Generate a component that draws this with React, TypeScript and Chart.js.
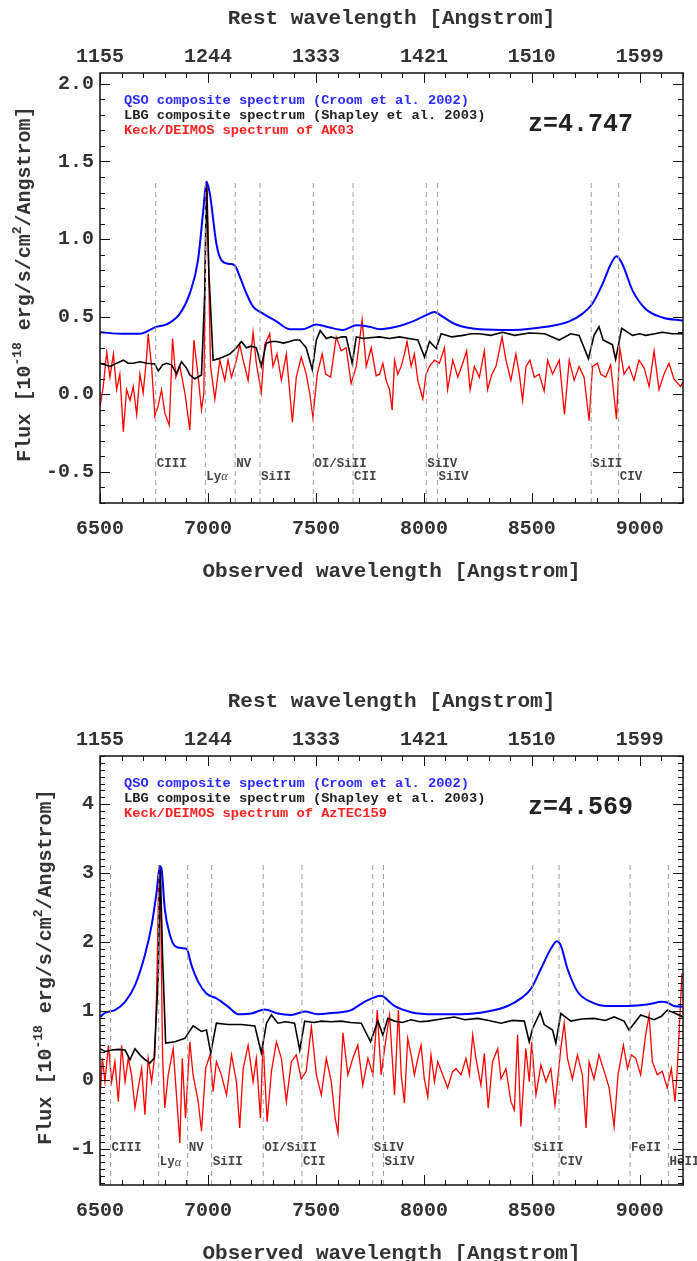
import React, { useEffect, useRef } from "react";
import { Chart, registerables } from "chart.js";

Chart.register(...registerables);

// ---------- shared axis data ----------
const obsTickValues = [6500, 7000, 7500, 8000, 8500, 9000];
const restTickLabels = ["1155", "1244", "1333", "1421", "1510", "1599"];
const obsMin = 6500;
const obsMax = 9200;

// ---------- AK03 (z = 4.747) ----------
const ak03QsoX = [6500, 6608, 6685, 6762, 6808, 6870, 6916, 6954, 6978, 6993, 7009, 7039, 7062, 7101, 7124, 7147, 7178, 7209, 7255, 7317, 7378, 7440, 7502, 7564, 7625, 7687, 7748, 7795, 7872, 7949, 8010, 8049, 8087, 8149, 8257, 8411, 8565, 8673, 8735, 8781, 8827, 8866, 8892, 8919, 8966, 9027, 9104, 9200];
const ak03QsoY = [0.40, 0.39, 0.39, 0.435, 0.45, 0.52, 0.65, 0.865, 1.18, 1.37, 1.29, 0.97, 0.865, 0.84, 0.83, 0.76, 0.65, 0.565, 0.52, 0.47, 0.42, 0.42, 0.45, 0.43, 0.415, 0.445, 0.435, 0.42, 0.435, 0.47, 0.51, 0.53, 0.50, 0.45, 0.42, 0.415, 0.435, 0.47, 0.52, 0.585, 0.71, 0.84, 0.89, 0.84, 0.67, 0.55, 0.495, 0.475];

const ak03LbgX = [6500, 6523, 6546, 6577, 6608, 6630, 6654, 6685, 6716, 6754, 6770, 6790, 6808, 6831, 6854, 6877, 6900, 6916, 6939, 6970, 6985, 6993, 7005, 7024, 7050, 7070, 7101, 7132, 7155, 7178, 7200, 7224, 7247, 7270, 7295, 7317, 7350, 7378, 7400, 7425, 7455, 7483, 7502, 7520, 7548, 7570, 7594, 7620, 7640, 7668, 7687, 7720, 7748, 7795, 7840, 7887, 7930, 7972, 8003, 8026, 8057, 8080, 8130, 8180, 8220, 8257, 8310, 8365, 8420, 8488, 8560, 8627, 8680, 8719, 8762, 8788, 8811, 8830, 8873, 8888, 8916, 8966, 9000, 9027, 9070, 9104, 9150, 9200];
const ak03LbgY = [0.20, 0.19, 0.18, 0.20, 0.22, 0.20, 0.20, 0.21, 0.20, 0.195, 0.15, 0.19, 0.20, 0.19, 0.135, 0.21, 0.17, 0.125, 0.10, 0.125, 0.65, 1.37, 0.76, 0.22, 0.23, 0.24, 0.26, 0.30, 0.34, 0.30, 0.31, 0.30, 0.18, 0.33, 0.34, 0.34, 0.33, 0.34, 0.35, 0.35, 0.30, 0.16, 0.35, 0.41, 0.36, 0.37, 0.36, 0.37, 0.37, 0.20, 0.37, 0.36, 0.365, 0.37, 0.36, 0.37, 0.36, 0.35, 0.24, 0.34, 0.295, 0.39, 0.37, 0.38, 0.39, 0.39, 0.38, 0.40, 0.38, 0.395, 0.39, 0.35, 0.39, 0.38, 0.23, 0.38, 0.435, 0.35, 0.32, 0.225, 0.425, 0.38, 0.39, 0.38, 0.39, 0.40, 0.39, 0.39];

const ak03KeckX = [6500, 6515, 6531, 6546, 6562, 6577, 6592, 6608, 6623, 6639, 6654, 6670, 6685, 6700, 6716, 6723, 6739, 6754, 6770, 6785, 6800, 6821, 6836, 6851, 6870, 6893, 6916, 6935, 6955, 6970, 6981, 6990, 6996, 7002, 7012, 7032, 7055, 7078, 7093, 7109, 7132, 7147, 7163, 7186, 7209, 7224, 7247, 7263, 7286, 7301, 7320, 7340, 7363, 7391, 7409, 7432, 7455, 7471, 7486, 7506, 7529, 7545, 7568, 7594, 7617, 7640, 7663, 7687, 7714, 7733, 7756, 7779, 7795, 7810, 7825, 7841, 7853, 7864, 7879, 7895, 7910, 7922, 7941, 7956, 7972, 7995, 8010, 8026, 8049, 8072, 8095, 8110, 8134, 8157, 8180, 8198, 8214, 8234, 8257, 8280, 8295, 8315, 8334, 8362, 8380, 8403, 8426, 8442, 8457, 8473, 8491, 8511, 8534, 8557, 8573, 8596, 8627, 8651, 8673, 8696, 8719, 8742, 8765, 8781, 8804, 8819, 8842, 8865, 8892, 8907, 8927, 8950, 8973, 8996, 9020, 9043, 9066, 9089, 9112, 9135, 9158, 9189, 9200];
const ak03KeckY = [-0.08, 0.05, 0.27, 0.11, 0.26, 0.03, 0.13, -0.24, 0.03, -0.04, 0.05, -0.13, 0.13, 0.01, 0.24, 0.39, 0.18, -0.14, -0.07, 0.03, -0.12, -0.20, 0.36, 0.11, 0.18, 0.01, -0.23, 0.35, 0.11, -0.10, 0.01, 1.08, 1.37, 0.86, 0.18, -0.03, 0.22, 0.09, 0.22, 0.11, 0.22, 0.32, 0.22, 0.09, 0.40, 0.20, 0.01, 0.32, 0.39, 0.18, 0.26, 0.09, 0.26, -0.18, 0.11, 0.24, 0.13, 0.01, -0.15, 0.13, 0.26, 0.13, 0.11, 0.37, 0.28, 0.30, 0.07, 0.18, 0.48, 0.18, 0.30, 0.12, 0.13, 0.20, 0.09, 0.03, -0.10, 0.22, 0.13, 0.18, 0.26, 0.34, 0.18, 0.26, 0.09, -0.03, 0.13, 0.18, 0.22, 0.20, 0.30, 0.03, 0.22, 0.11, 0.20, 0.28, 0.03, 0.18, 0.11, 0.28, 0.03, 0.13, 0.18, 0.37, 0.22, 0.09, 0.26, 0.13, -0.04, 0.18, 0.22, 0.11, 0.13, 0.02, 0.22, 0.13, 0.22, -0.13, 0.22, 0.09, 0.18, 0.11, -0.17, 0.18, 0.20, 0.13, 0.11, 0.19, -0.16, 0.30, 0.13, 0.18, 0.09, 0.22, 0.17, 0.05, 0.28, 0.03, 0.13, 0.20, 0.10, 0.05, 0.08];

const ak03LineObs = [6758, 6988, 7126, 7241, 7488, 7672, 8011, 8063, 8775, 8902];
const ak03LineNames = ["CIII", "Lyα", "NV", "SiII", "OI/SiII", "CII", "SiIV", "SiIV", "SiII", "CIV"];
const ak03YTicks = [-0.5, 0, 0.5, 1, 1.5, 2];

// ---------- AzTEC159 (z = 4.569) ----------
const aztecQsoX = [6500, 6523, 6569, 6616, 6662, 6708, 6739, 6762, 6777, 6785, 6800, 6824, 6847, 6878, 6901, 6924, 6955, 6993, 7039, 7093, 7140, 7201, 7263, 7324, 7386, 7448, 7509, 7586, 7663, 7725, 7802, 7848, 7864, 7941, 8049, 8172, 8295, 8388, 8449, 8496, 8542, 8588, 8616, 8634, 8665, 8711, 8773, 8850, 8943, 9035, 9104, 9127, 9158, 9200];
const aztecQsoY = [0.91, 0.97, 1.01, 1.13, 1.37, 1.81, 2.24, 2.72, 3.10, 3.06, 2.48, 2.10, 1.94, 1.91, 1.90, 1.66, 1.42, 1.25, 1.18, 1.06, 0.95, 0.96, 1.02, 0.96, 0.94, 0.99, 0.95, 0.97, 1.01, 1.13, 1.22, 1.11, 1.07, 0.98, 0.95, 0.95, 0.99, 1.07, 1.18, 1.32, 1.61, 1.90, 2.01, 1.95, 1.61, 1.28, 1.13, 1.07, 1.07, 1.09, 1.13, 1.12, 1.07, 1.06];

const aztecLbgX = [6500, 6523, 6554, 6585, 6616, 6639, 6662, 6685, 6708, 6731, 6751, 6770, 6779, 6790, 6804, 6847, 6893, 6931, 6970, 6993, 7013, 7039, 7093, 7155, 7217, 7247, 7271, 7294, 7324, 7360, 7401, 7425, 7448, 7490, 7525, 7570, 7617, 7660, 7710, 7753, 7787, 7810, 7833, 7864, 7900, 7941, 7980, 8018, 8080, 8141, 8190, 8249, 8300, 8357, 8410, 8465, 8488, 8503, 8539, 8557, 8596, 8611, 8634, 8681, 8730, 8788, 8840, 8881, 8927, 8950, 9004, 9066, 9100, 9127, 9158, 9200];
const aztecLbgY = [0.45, 0.41, 0.43, 0.44, 0.43, 0.29, 0.45, 0.36, 0.29, 0.24, 0.31, 1.52, 3.11, 1.76, 0.53, 0.55, 0.60, 0.78, 0.70, 0.72, 0.39, 0.82, 0.80, 0.80, 0.78, 0.39, 0.82, 0.94, 0.82, 0.84, 0.82, 0.43, 0.85, 0.83, 0.85, 0.84, 0.85, 0.83, 0.82, 0.55, 0.85, 0.65, 0.89, 0.85, 0.83, 0.87, 0.84, 0.85, 0.88, 0.91, 0.87, 0.89, 0.86, 0.82, 0.86, 0.85, 0.55, 0.74, 0.98, 0.80, 0.72, 0.53, 0.96, 0.85, 0.88, 0.89, 0.86, 0.91, 0.85, 0.72, 0.94, 0.87, 0.92, 1.01, 0.97, 0.91];

const aztecKeckX = [6500, 6511, 6523, 6539, 6554, 6569, 6585, 6600, 6616, 6631, 6646, 6662, 6677, 6693, 6708, 6723, 6739, 6754, 6764, 6773, 6782, 6790, 6800, 6816, 6839, 6854, 6870, 6881, 6896, 6916, 6931, 6955, 6970, 6989, 7009, 7024, 7039, 7062, 7086, 7109, 7132, 7147, 7163, 7186, 7209, 7224, 7243, 7255, 7274, 7294, 7317, 7340, 7363, 7386, 7409, 7432, 7455, 7479, 7502, 7525, 7548, 7571, 7589, 7602, 7625, 7648, 7671, 7694, 7717, 7741, 7764, 7784, 7802, 7818, 7841, 7864, 7882, 7895, 7910, 7925, 7941, 7956, 7972, 7987, 8002, 8018, 8033, 8049, 8064, 8087, 8110, 8133, 8149, 8172, 8195, 8211, 8226, 8241, 8264, 8280, 8298, 8318, 8342, 8357, 8380, 8403, 8419, 8434, 8449, 8472, 8488, 8499, 8519, 8542, 8565, 8588, 8607, 8622, 8634, 8650, 8665, 8688, 8711, 8734, 8751, 8765, 8788, 8811, 8835, 8858, 8881, 8899, 8924, 8943, 8961, 8981, 9004, 9027, 9043, 9058, 9081, 9104, 9127, 9146, 9163, 9174, 9195];
const aztecKeckY = [-0.27, 0.31, -0.03, 0.50, -0.03, 0.26, -0.32, 0.50, -0.03, 0.31, 0.07, -0.41, -0.12, 0.16, -0.51, 0.31, -0.03, 0.36, 1.52, 3.11, 2.24, 0.31, -0.41, 0.07, 0.45, -0.22, -0.92, 0.31, -0.56, 0.55, 0.07, -0.32, -0.75, 0.16, 0.36, -0.17, 0.26, 0.07, -0.22, 0.36, -0.03, -0.70, 0.16, 0.50, -0.03, 0.31, -0.56, 0.55, -0.61, 0.12, 0.55, 0.31, -0.32, 0.26, 0.36, 0.01, 0.12, 0.77, 0.07, -0.22, 0.31, -0.03, -0.56, -0.78, 0.68, 0.07, 0.31, 0.50, -0.08, 0.31, 0.07, 1.01, 0.07, 0.45, 0.94, -0.22, 1.01, 0.07, -0.34, 0.60, 0.36, 0.07, 0.31, 0.50, 0.01, -0.25, 0.36, -0.03, 0.26, 0.07, -0.12, 0.12, 0.16, 0.07, 0.31, 0.07, 0.65, 0.31, -0.08, 0.38, -0.41, 0.26, 0.45, 0.01, 0.16, -0.32, -0.44, 0.65, -0.68, 0.45, -0.03, 0.55, -0.22, 0.21, -0.03, 0.16, -0.37, 0.07, 0.45, 0.82, 0.31, 0.01, 0.36, 0.07, -0.70, 0.26, 0.01, 0.36, 0.12, -0.12, -0.68, 0.07, 0.50, 0.16, 0.36, 0.31, 0.07, 0.65, 0.94, 0.26, 0.07, 0.12, -0.12, 0.16, -0.32, 0.16, 1.54];

const aztecLineObs = [6549, 6772, 6906, 7017, 7256, 7435, 7763, 7813, 8504, 8626, 8955, 9133];
const aztecLineNames = ["CIII", "Lyα", "NV", "SiII", "OI/SiII", "CII", "SiIV", "SiIV", "SiII", "CIV", "FeII", "HeII"];
const aztecYTicks = [-1, 0, 1, 2, 3, 4];

// ---------- layout / style ----------
const W = 697;
const FRAME_LEFT = 100;
const FRAME_RIGHT = 683;
const MONO = '"Liberation Mono", "Courier New", monospace';
const TEXT = "#333";

type Panel = {
  top: number;
  height: number;
  frameTop: number;
  frameBottom: number;
  yMin: number;
  yMax: number;
  yTicks: number[];
  yMajorEvery: number;
  yFmt: (v: number) => string;
  lineTopVal: number;
  labelRows: [number, number];
  qsoX: number[]; qsoY: number[];
  lbgX: number[]; lbgY: number[];
  keckX: number[]; keckY: number[];
  lineObs: number[]; lineNames: string[];
  zText: string;
  target: string;
  yTitleX: number;
  yTitleY: number;
};

const panels: Panel[] = [
  {
    top: 0, height: 600, frameTop: 73, frameBottom: 503,
    yMin: -0.7, yMax: 2.07, yTicks: ak03YTicks, yMajorEvery: 5,
    yFmt: (v) => v.toFixed(1),
    lineTopVal: 1.38, labelRows: [-0.449, -0.532],
    qsoX: ak03QsoX, qsoY: ak03QsoY, lbgX: ak03LbgX, lbgY: ak03LbgY, keckX: ak03KeckX, keckY: ak03KeckY,
    lineObs: ak03LineObs, lineNames: ak03LineNames,
    zText: "z=4.747", target: "AK03", yTitleX: 30, yTitleY: 284,
  },
  {
    top: 680, height: 581, frameTop: 76, frameBottom: 505,
    yMin: -1.53, yMax: 4.7, yTicks: aztecYTicks, yMajorEvery: 10,
    yFmt: (v) => String(v),
    lineTopVal: 3.12, labelRows: [-0.996, -1.2],
    qsoX: aztecQsoX, qsoY: aztecQsoY, lbgX: aztecLbgX, lbgY: aztecLbgY, keckX: aztecKeckX, keckY: aztecKeckY,
    lineObs: aztecLineObs, lineNames: aztecLineNames,
    zText: "z=4.569", target: "AzTEC159", yTitleX: 51, yTitleY: 287,
  },
];

function zip(xs: number[], ys: number[]) {
  return xs.map((x, i) => ({ x, y: ys[i] }));
}

function drawYTitle(ctx: CanvasRenderingContext2D, bx: number, cy: number) {
  const big = `bold 20px ${MONO}`;
  const small = `bold 13px ${MONO}`;
  const parts: [string, string, number][] = [
    ["Flux [10", big, 0],
    ["-18", small, -9],
    [" erg/s/cm", big, 0],
    ["2", small, -9],
    ["/Angstrom]", big, 0],
  ];
  ctx.save();
  ctx.translate(bx, cy);
  ctx.rotate(-Math.PI / 2);
  ctx.fillStyle = TEXT;
  ctx.textBaseline = "alphabetic";
  ctx.textAlign = "left";
  let total = 0;
  for (const p of parts) {
    ctx.font = p[1];
    total += ctx.measureText(p[0]).width;
  }
  let x = -total / 2;
  for (const p of parts) {
    ctx.font = p[1];
    ctx.fillText(p[0], x, p[2]);
    x += ctx.measureText(p[0]).width;
  }
  ctx.restore();
}

function makeOverlay(p: Panel) {
  return {
    id: "overlay",
    afterDatasetsDraw(chart: any) {
      const { ctx, chartArea: a, scales } = chart;
      const xs = scales.x;
      const ys = scales.y;
      ctx.save();

      // line identification labels
      ctx.fillStyle = "#444";
      ctx.textBaseline = "middle";
      ctx.textAlign = "left";
      p.lineObs.forEach((w: number, i: number) => {
        const px = xs.getPixelForValue(w) + 1;
        const py = ys.getPixelForValue(p.labelRows[i % 2]);
        const name = p.lineNames[i];
        if (name === "Lyα") {
          ctx.font = `bold 12.5px ${MONO}`;
          ctx.fillText("Ly", px, py);
          const wLy = ctx.measureText("Ly").width;
          ctx.font = `italic 12.5px "Liberation Serif", serif`;
          ctx.fillText("α", px + wLy, py);
        } else {
          ctx.font = `bold 12.5px ${MONO}`;
          ctx.fillText(name, px, py);
        }
      });

      // frame
      ctx.strokeStyle = "#111";
      ctx.lineWidth = 1.5;
      ctx.strokeRect(a.left, a.top, a.right - a.left, a.bottom - a.top);

      // x ticks (bottom & top, inward)
      ctx.lineWidth = 1;
      ctx.beginPath();
      for (let v = obsMin; v <= obsMax; v += 100) {
        const px = Math.round(xs.getPixelForValue(v)) + 0.5;
        const len = v % 500 === 0 ? 10 : 5;
        ctx.moveTo(px, a.bottom);
        ctx.lineTo(px, a.bottom - len);
        ctx.moveTo(px, a.top);
        ctx.lineTo(px, a.top + len);
      }
      // y ticks (left & right, inward)
      const k0 = Math.ceil(p.yMin * 10 - 1e-6);
      const k1 = Math.floor(p.yMax * 10 + 1e-6);
      for (let k = k0; k <= k1; k++) {
        const py = Math.round(ys.getPixelForValue(k / 10)) + 0.5;
        const len = k % p.yMajorEvery === 0 ? 10 : 5;
        ctx.moveTo(a.left, py);
        ctx.lineTo(a.left + len, py);
        ctx.moveTo(a.right, py);
        ctx.lineTo(a.right - len, py);
      }
      ctx.stroke();

      // legend texts
      ctx.textBaseline = "alphabetic";
      ctx.textAlign = "left";
      ctx.font = `bold 13.7px ${MONO}`;
      ctx.fillStyle = "#2a2aff";
      ctx.fillText("QSO composite spectrum (Croom et al. 2002)", 124, a.top + 30.5);
      ctx.fillStyle = "#222";
      ctx.fillText("LBG composite spectrum (Shapley et al. 2003)", 124, a.top + 45.8);
      ctx.fillStyle = "#ff2020";
      ctx.fillText("Keck/DEIMOS spectrum of " + p.target, 124, a.top + 60.5);

      // redshift
      ctx.fillStyle = "#222";
      ctx.font = `bold 25px ${MONO}`;
      ctx.fillText(p.zText, 528, a.top + 58.3);

      // axis titles
      ctx.fillStyle = TEXT;
      ctx.textAlign = "center";
      ctx.font = `bold 21px ${MONO}`;
      const cx = (a.left + a.right) / 2;
      ctx.fillText("Rest wavelength [Angstrom]", cx, a.top - 49);
      ctx.fillText("Observed wavelength [Angstrom]", cx, a.bottom + 74);

      drawYTitle(ctx, p.yTitleX, p.yTitleY);
      ctx.restore();
    },
  };
}

function PanelChart({ p }: { p: Panel }) {
  const ref = useRef<HTMLCanvasElement | null>(null);
  useEffect(() => {
    if (!ref.current) return;
    const tickFont = { family: MONO, size: 20, weight: "bold" as const };
    const lineSets = p.lineObs.map((w) => ({
      data: [{ x: w, y: p.yMin }, { x: w, y: p.lineTopVal }],
      borderColor: "#a0a0a0",
      borderWidth: 1,
      borderDash: [5, 4],
      pointRadius: 0,
      fill: false,
    }));
    const chart = new Chart(ref.current, {
      type: "line",
      data: {
        datasets: [
          ...lineSets,
          { data: zip(p.qsoX, p.qsoY), borderColor: "#0000ff", borderWidth: 2, pointRadius: 0, fill: false, cubicInterpolationMode: "monotone" },
          { data: zip(p.lbgX, p.lbgY), borderColor: "#000000", borderWidth: 1.6, pointRadius: 0, fill: false },
          { data: zip(p.keckX, p.keckY), borderColor: "#ff0000", borderWidth: 1.3, pointRadius: 0, fill: false },
        ] as any,
      },
      options: {
        animation: false,
        responsive: false,
        maintainAspectRatio: false,
        events: [],
        layout: { padding: { left: 0, right: W - FRAME_RIGHT, top: 0, bottom: 0 } },
        plugins: { legend: { display: false }, tooltip: { enabled: false } },
        elements: { point: { radius: 0 }, line: { tension: 0 } },
        scales: {
          x: {
            type: "linear",
            position: "bottom",
            min: obsMin,
            max: obsMax,
            grid: { display: false, drawTicks: false },
            border: { display: false },
            afterBuildTicks: (s: any) => { s.ticks = obsTickValues.map((v) => ({ value: v })); },
            afterFit: (s: any) => { s.height = p.height - p.frameBottom; },
            ticks: { font: tickFont, color: TEXT, padding: 14, maxRotation: 0, autoSkip: false, callback: (v: any) => String(v) },
          },
          xTop: {
            type: "linear",
            position: "top",
            min: obsMin,
            max: obsMax,
            grid: { display: false, drawTicks: false },
            border: { display: false },
            afterBuildTicks: (s: any) => { s.ticks = obsTickValues.map((v) => ({ value: v })); },
            afterFit: (s: any) => { s.height = p.frameTop; },
            ticks: { font: tickFont, color: TEXT, padding: 4, maxRotation: 0, autoSkip: false, callback: (_v: any, i: number) => restTickLabels[i] },
          },
          y: {
            type: "linear",
            position: "left",
            min: p.yMin,
            max: p.yMax,
            grid: { display: false, drawTicks: false },
            border: { display: false },
            afterBuildTicks: (s: any) => { s.ticks = p.yTicks.map((v) => ({ value: v })); },
            afterFit: (s: any) => { s.width = FRAME_LEFT; },
            ticks: { font: tickFont, color: TEXT, padding: 6, autoSkip: false, callback: (v: any) => p.yFmt(Number(v)) },
          },
        } as any,
      },
      plugins: [makeOverlay(p)],
    });
    return () => chart.destroy();
  }, [p]);
  return (
    <canvas
      ref={ref}
      width={W}
      height={p.height}
      style={{ position: "absolute", left: 0, top: p.top, width: W, height: p.height }}
    />
  );
}

export default function App() {
  return (
    <div style={{ position: "absolute", left: 0, top: 0, width: W, height: 1261, background: "#fff", overflow: "hidden" }}>
      {panels.map((p, i) => (
        <PanelChart key={i} p={p} />
      ))}
    </div>
  );
}
